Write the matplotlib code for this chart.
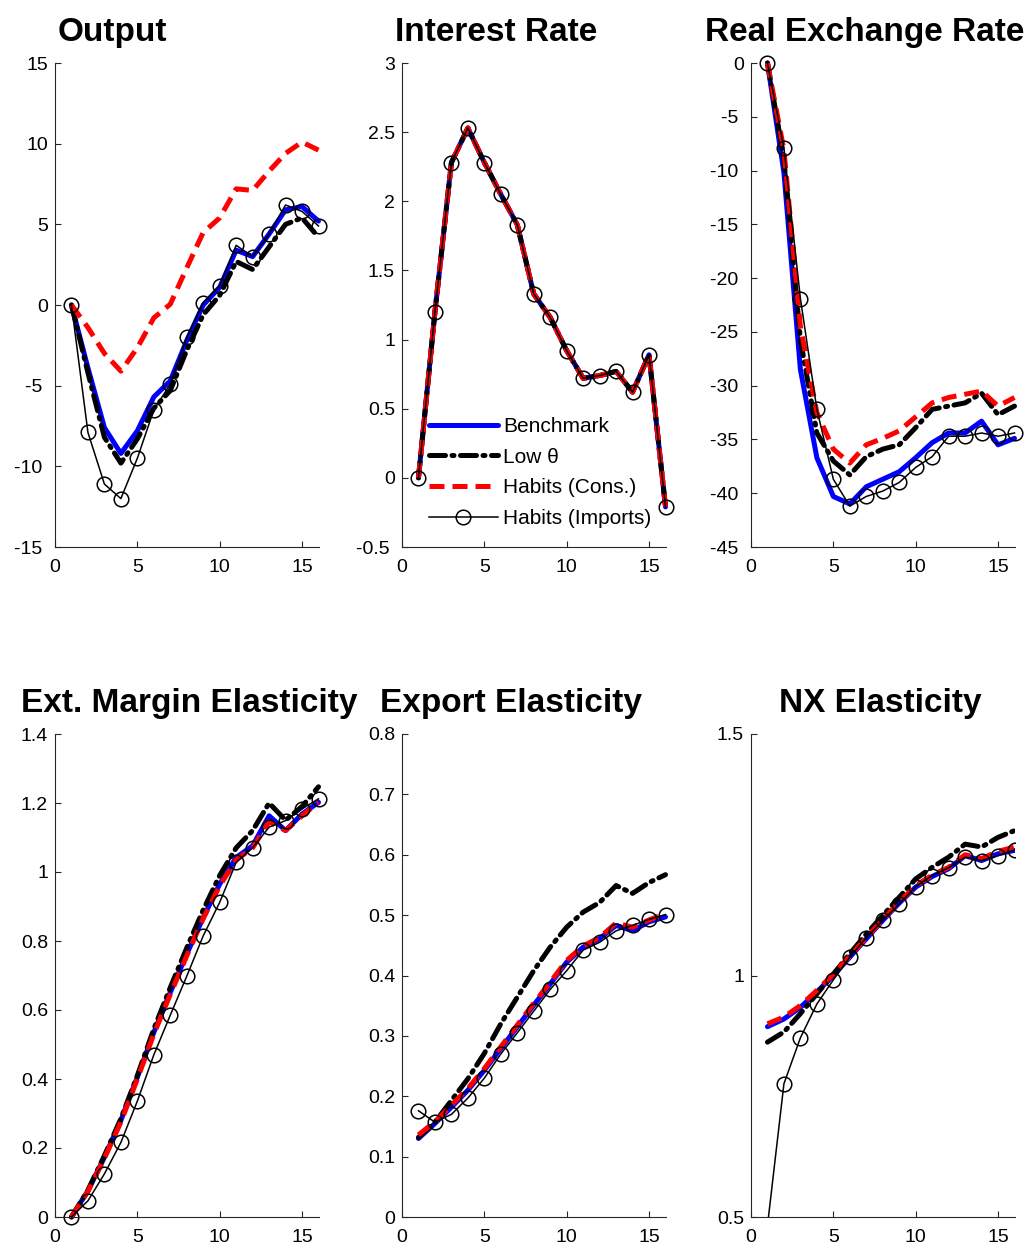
import numpy as np
import matplotlib
matplotlib.use("Agg")
import matplotlib.pyplot as plt
from matplotlib.ticker import FuncFormatter

plt.rcParams['font.family'] = ['Liberation Sans', 'DejaVu Sans']
plt.rcParams['axes.unicode_minus'] = False

# horizon
periods = np.arange(1, 17)

# --- Output ---
out_bench = [0, -3.9, -7.6, -9.2, -7.8, -5.7, -4.7, -2.2, 0.0, 1.1, 3.4, 3.0, 4.4, 5.9, 6.1, 5.2]
out_lowth = [0, -4.2, -8.2, -9.8, -8.3, -6.4, -5.3, -2.8, -0.6, 0.6, 2.7, 2.2, 3.6, 5.0, 5.4, 4.2]
out_habc = [0, -1.4, -3.0, -4.1, -2.65, -0.8, 0.05, 2.3, 4.5, 5.4, 7.2, 7.1, 8.3, 9.4, 10.1, 9.6]
out_habi = [0, -7.9, -11.1, -12.0, -9.5, -6.5, -4.9, -2.0, 0.15, 1.2, 3.7, 3.0, 4.4, 6.2, 5.8, 4.9]

# --- Interest Rate (all four nearly identical) ---
ir_all = [0.0, 1.2, 2.28, 2.53, 2.28, 2.05, 1.83, 1.33, 1.16, 0.92, 0.72, 0.74, 0.77, 0.62, 0.89, -0.21]

# --- Real Exchange Rate ---
rer_bench = [0, -10.2, -28.5, -36.7, -40.3, -41.0, -39.4, -38.7, -38.0, -36.7, -35.3, -34.4, -34.4, -33.3, -35.5, -34.9]
rer_lowth = [0, -9.0, -25.7, -34.4, -37.0, -38.3, -36.6, -35.9, -35.5, -33.9, -32.2, -31.9, -31.6, -30.7, -32.7, -31.9]
rer_habc = [0, -8.1, -24.5, -32.5, -35.9, -37.2, -35.5, -34.9, -34.2, -32.9, -31.6, -31.1, -30.8, -30.5, -31.9, -31.1]
rer_habi = [0, -7.9, -21.9, -32.2, -38.7, -41.2, -40.3, -39.8, -39.0, -37.6, -36.6, -34.7, -34.7, -34.4, -34.7, -34.4]

# --- Ext. Margin Elasticity ---
ext_bench = [0, 0.076, 0.173, 0.28, 0.405, 0.535, 0.651, 0.762, 0.868, 0.965, 1.042, 1.076, 1.163, 1.12, 1.168, 1.202]
ext_lowth = [0, 0.078, 0.178, 0.285, 0.41, 0.545, 0.665, 0.78, 0.89, 0.99, 1.07, 1.12, 1.20, 1.15, 1.19, 1.247]
ext_habc = [0, 0.074, 0.17, 0.275, 0.40, 0.53, 0.645, 0.757, 0.865, 0.96, 1.035, 1.07, 1.146, 1.12, 1.163, 1.202]
ext_habi = [0, 0.047, 0.125, 0.216, 0.336, 0.47, 0.585, 0.698, 0.815, 0.912, 1.028, 1.07, 1.13, 1.149, 1.183, 1.212]

# --- Export Elasticity ---
exp_bench = [0.130, 0.155, 0.182, 0.21, 0.243, 0.279, 0.315, 0.351, 0.386, 0.422, 0.447, 0.461, 0.483, 0.474, 0.489, 0.497]
exp_lowth = [0.132, 0.157, 0.193, 0.229, 0.271, 0.32, 0.364, 0.408, 0.447, 0.48, 0.505, 0.521, 0.549, 0.536, 0.554, 0.567]
exp_habc = [0.136, 0.158, 0.185, 0.213, 0.246, 0.282, 0.318, 0.354, 0.389, 0.425, 0.449, 0.463, 0.487, 0.48, 0.492, 0.503]
exp_habi = [0.176, 0.157, 0.17, 0.197, 0.230, 0.270, 0.305, 0.341, 0.377, 0.408, 0.442, 0.455, 0.474, 0.483, 0.493, 0.501]

# --- NX Elasticity ---
nx_bench = [0.894, 0.91, 0.934, 0.966, 1.0, 1.038, 1.076, 1.114, 1.15, 1.183, 1.205, 1.221, 1.248, 1.238, 1.252, 1.259]
nx_lowth = [0.862, 0.883, 0.921, 0.962, 1.003, 1.045, 1.086, 1.124, 1.162, 1.2, 1.224, 1.245, 1.272, 1.266, 1.286, 1.3]
nx_habc = [0.9, 0.914, 0.938, 0.969, 1.003, 1.04, 1.078, 1.116, 1.152, 1.186, 1.208, 1.224, 1.25, 1.242, 1.257, 1.266]
nx_habi = [0.482, 0.776, 0.871, 0.941, 0.991, 1.038, 1.078, 1.114, 1.148, 1.184, 1.207, 1.223, 1.245, 1.238, 1.248, 1.26]

titles = ["Output", "Interest Rate", "Real Exchange Rate",
          "Ext. Margin Elasticity", "Export Elasticity", "NX Elasticity"]
title_x = [112, 496, 865, 189, 511, 880]
title_y = [41, 41, 41, 712, 712, 712]

series = [
    (out_bench, out_lowth, out_habc, out_habi),
    (ir_all, ir_all, ir_all, ir_all),
    (rer_bench, rer_lowth, rer_habc, rer_habi),
    (ext_bench, ext_lowth, ext_habc, ext_habi),
    (exp_bench, exp_lowth, exp_habc, exp_habi),
    (nx_bench, nx_lowth, nx_habc, nx_habi),
]
yticks = [
    np.arange(-15, 16, 5),
    np.arange(-0.5, 3.01, 0.5),
    np.arange(-45, 1, 5),
    np.arange(0, 1.41, 0.2),
    np.arange(0, 0.81, 0.1),
    [0.5, 1.0, 1.5],
]
labels = ["Benchmark", "Low θ", "Habits (Cons.)", "Habits (Imports)"]


def ytick_fmt(v, pos):
    s = '%g' % round(v, 6)
    # negative labels sit a little further left in the original
    return s + ' ' if v < 0 else s


W, H = 1029, 1253
fig = plt.figure(figsize=(W / 100, H / 100), dpi=100)

col_left = [55, 402, 751]
col_w = 263.5
row_top = [63, 734]
row_h = [484, 483]

axc = '#262626'
for i in range(6):
    r, c = divmod(i, 3)
    ax = fig.add_axes([col_left[c] / W, 1 - (row_top[r] + row_h[r]) / H, col_w / W, row_h[r] / H])
    b, l, hc, hi = series[i]
    clip = (i == 5)
    ax.plot(periods, b, color='blue', lw=3.6, solid_capstyle='round', label=labels[0], clip_on=clip)
    ax.plot(periods, l, color='black', lw=3.6, dashes=(3.2, 1.3, 0.4, 1.3),
            dash_capstyle='round', label=labels[1], clip_on=clip)
    ax.plot(periods, hc, color='red', lw=3.6, dashes=(3.0, 1.6), label=labels[2], clip_on=clip)
    ax.plot(periods, hi, color='black', lw=1.1, marker='o', ms=10.5, mfc='none',
            mec='black', mew=1.1, label=labels[3], clip_on=clip)
    ax.set_xlim(0, 16)
    ax.set_xticks([0, 5, 10, 15])
    yt = yticks[i]
    ax.set_ylim(yt[0], yt[-1])
    ax.set_yticks(yt)
    ax.yaxis.set_major_formatter(FuncFormatter(ytick_fmt))
    for s in ['top', 'right']:
        ax.spines[s].set_visible(False)
    for s in ['left', 'bottom']:
        ax.spines[s].set_color(axc)
        ax.spines[s].set_linewidth(0.8)
    ax.tick_params(direction='in', length=4, width=0.8, color=axc,
                   labelsize=14, labelcolor='black')
    ax.tick_params(axis='y', pad=5)
    ax.tick_params(axis='x', pad=9)
    fig.text(title_x[i] / W, 1 - title_y[i] / H, titles[i], ha='center', va='baseline',
             fontsize=24, fontweight='bold')
    if i == 1:
        ax.legend(loc='lower left', bbox_to_anchor=(429 / W, 1 - 528 / H),
                  bbox_transform=fig.transFigure, frameon=False, fontsize=15,
                  handlelength=3.3, handletextpad=0.25, labelspacing=0.56,
                  borderpad=0, borderaxespad=0, numpoints=1)

fig.savefig("out.png", dpi=100)
